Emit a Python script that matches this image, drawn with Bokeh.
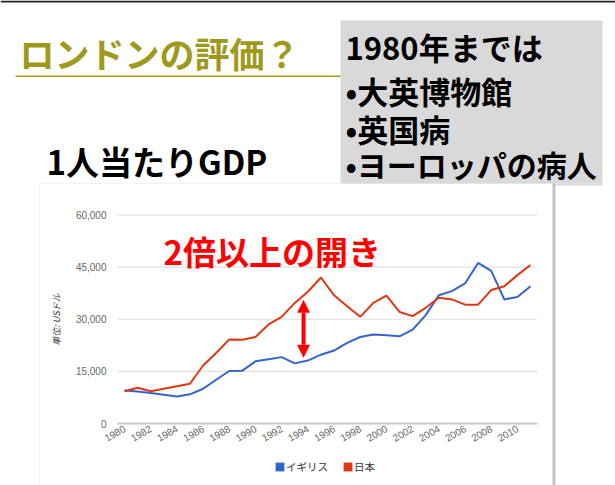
import math
from bokeh.plotting import figure
from bokeh.models import (Range1d, FixedTicker, NumeralTickFormatter, Label,
                          BoxAnnotation, Arrow, NormalHead, LinearAxis)
from bokeh.embed import file_html
from bokeh.resources import INLINE

# ---------------- data ----------------
years = list(range(1980, 2012))
uk = [9500, 9200, 8750, 8300, 7800, 8400, 10000, 12600, 15100, 15200,
      17900, 18500, 19100, 17300, 18100, 19800, 21000, 23200, 24900, 25600,
      25400, 25100, 27000, 31200, 36900, 38100, 40300, 46200, 43900, 35700,
      36400, 39500]
japan = [9300, 10300, 9300, 10000, 10700, 11450, 16700, 20300, 24200, 24100,
         24900, 28500, 30700, 34700, 37900, 42000, 36900, 33750, 30700, 34700,
         36800, 32100, 30900, 33300, 36200, 35700, 34200, 34200, 38400, 39500,
         42700, 45600]
series_names = ["イギリス", "日本"]
y_ticks = [0, 15000, 30000, 45000, 60000]
x_ticks = list(range(1980, 2011, 2))
y_axis_title = "単位: USドル"
title_text = "ロンドンの評価？"
subtitle_text = "1人当たりGDP"
box_lines = ["1980年までは", "•大英博物館", "•英国病", "•ヨーロッパの病人"]
note_text = "2倍以上の開き"
gap_year = 1993.67
gap_low, gap_high = 18950, 35600

# ---------------- layout (page pixels) ----------------
W, H = 615, 485
X_FIRST_PX, X_LAST_PX = 124, 530      # pixel of first / last year
Y_ZERO_PX, Y_TOP_PX = 423, 214.5      # pixel of 0 and of 60,000
AREA_PAD_PX = 7                       # plot area extends this far past the points

px_per_year = (X_LAST_PX - X_FIRST_PX) / (years[-1] - years[0])
x_start = years[0] - X_FIRST_PX / px_per_year
x_end = x_start + W / px_per_year
px_per_unit = (Y_ZERO_PX - Y_TOP_PX) / y_ticks[-1]
y_start = -(H - Y_ZERO_PX) / px_per_unit
y_end = Y_ZERO_PX / px_per_unit
area_left = years[0] - AREA_PAD_PX / px_per_year
area_right = years[-1] + AREA_PAD_PX / px_per_year


def sx(rx):
    return rx


def sy(ry):
    return H - ry


CJK = "Noto Sans CJK JP"
LAT = "Liberation Sans"
BLUE, RED = "#3366cc", "#dc3912"
OLIVE = "#9e9a1c"

p = figure(width=W, height=H, output_backend="svg", toolbar_location=None,
           x_range=Range1d(x_start, x_end), y_range=Range1d(y_start, y_end),
           min_border=0, x_axis_location=None, y_axis_location=None)
p.outline_line_color = None
p.background_fill_color = "white"
p.border_fill_color = "white"
p.xgrid.visible = False
p.ygrid.visible = False


def screen_box(l, r, t, b, **kw):
    return BoxAnnotation(left=sx(l), right=sx(r), top=sy(t), bottom=sy(b),
                         left_units="screen", right_units="screen",
                         top_units="screen", bottom_units="screen", **kw)


# slide decorations
p.add_layout(screen_box(0, 615, 0, 2, fill_color="#222222", fill_alpha=1,
                        line_color=None, level="underlay"))
p.add_layout(screen_box(340, 602, 20, 183, fill_color="#d9d9d9", fill_alpha=1,
                        line_color=None, level="underlay"))
p.add_layout(screen_box(555, 602, 183, 185, fill_color="#d9d9d9", fill_alpha=1,
                        line_color=None, level="underlay"))
p.add_layout(screen_box(39, 553, 183, 520, fill_alpha=0, line_color="#d2d2d2",
                        line_width=1, level="underlay"))
p.add_layout(screen_box(552, 555, 183, 520, fill_color="#c4c4c4", fill_alpha=1,
                        line_color=None, level="underlay"))
p.add_layout(screen_box(15, 340, 75, 76.5, fill_color=OLIVE, fill_alpha=1,
                        line_color=None, level="underlay"))


def screen_label(x, y, text, size, color, **kw):
    return Label(x=sx(x), y=sy(y), x_units="screen", y_units="screen",
                 text=text, text_font=CJK, text_font_style="bold",
                 text_font_size=size, text_color=color, text_baseline="middle", **kw)


p.add_layout(screen_label(19, 52, title_text, "35px", OLIVE))
p.add_layout(screen_label(46, 160, subtitle_text, "33px", "black"))
box_y = [46, 90, 128, 163]
box_size = ["31px", "31px", "31px", "30px"]
for t, yy, fs in zip(box_lines, box_y, box_size):
    p.add_layout(screen_label(345, yy, t, fs, "black"))

# grid lines of the chart
p.segment(x0=area_left, x1=area_right, y0=y_ticks[1:], y1=y_ticks[1:],
          line_color="#e0e0e0", line_width=1.2)
p.segment(x0=area_left, x1=area_right, y0=y_ticks[0], y1=y_ticks[0],
          line_color="#c8c8c8", line_width=2)

# series
p.line(years, uk, color=BLUE, line_width=2)
p.line(years, japan, color=RED, line_width=2)
# zero-width bars: they only supply the square legend swatches
p.vbar(x=years, top=uk, width=0, fill_color=BLUE, line_color=None,
       legend_label=series_names[0])
p.vbar(x=years, top=japan, width=0, fill_color=RED, line_color=None,
       legend_label=series_names[1])

# axes (fixed inside the frame)
yaxis = LinearAxis(fixed_location=area_left, ticker=FixedTicker(ticks=y_ticks),
                   formatter=NumeralTickFormatter(format="0,0"),
                   bounds=(y_ticks[0], y_ticks[-1]))
xaxis = LinearAxis(fixed_location=0, ticker=FixedTicker(ticks=x_ticks),
                   bounds=(area_left, area_right))
for ax in (xaxis, yaxis):
    ax.axis_line_color = None
    ax.major_tick_line_color = None
    ax.minor_tick_line_color = None
    ax.major_tick_out = 0
    ax.major_tick_in = 0
    ax.major_label_text_font = LAT
    ax.major_label_text_font_size = "10px"
    ax.major_label_text_color = "#666666"
yaxis.major_label_standoff = 11
yaxis.axis_label = y_axis_title
yaxis.axis_label_text_font = CJK
yaxis.axis_label_text_font_size = "9px"
yaxis.axis_label_text_font_style = "italic"
yaxis.axis_label_text_color = "#333333"
yaxis.axis_label_standoff = 10
xaxis.major_label_orientation = math.pi / 6
xaxis.major_label_standoff = 4
p.add_layout(yaxis, "left")
p.add_layout(xaxis, "below")

lg = p.legend[0]
lg.location = (sx(274), sy(473.5))
lg.orientation = "horizontal"
lg.background_fill_alpha = 0
lg.border_line_color = None
lg.padding = 0
lg.margin = 0
lg.spacing = 14
lg.glyph_width = 11
lg.glyph_height = 11
lg.label_height = 11
lg.label_width = 10
lg.label_standoff = 1
lg.label_text_font = CJK
lg.label_text_font_size = "10.5px"
lg.label_text_color = "#333333"

# annotation
p.add_layout(Arrow(start=NormalHead(size=13, fill_color="#ff0000", line_color=None),
                   end=NormalHead(size=13, fill_color="#ff0000", line_color=None),
                   x_start=gap_year, y_start=gap_low, x_end=gap_year, y_end=gap_high,
                   line_color="#ff0000", line_width=4))
p.add_layout(screen_label(163, 250.5, note_text, "33px", "#ff0000"))

open("out.html", "w").write(file_html(p, INLINE))
